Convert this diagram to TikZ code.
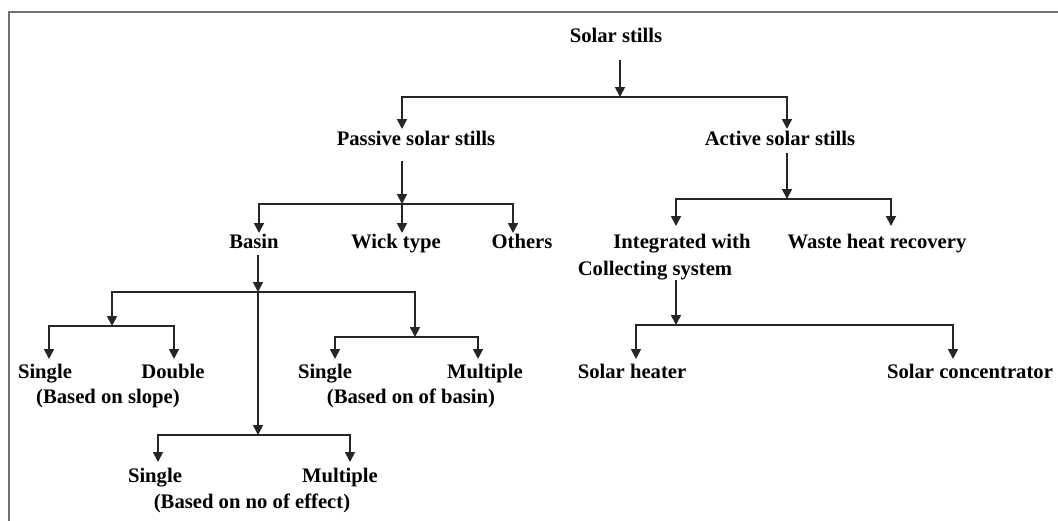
\documentclass[tikz,border=0pt]{standalone}
\usepackage{fontspec}
\setmainfont{Liberation Serif}
\usetikzlibrary{arrows.meta}
\begin{document}
\begin{tikzpicture}[x=0.75pt,y=-0.75pt,
  lbl/.style={anchor=base,inner sep=0pt,text=black,font=\fontsize{15.5}{18}\selectfont\bfseries},
  link/.style={draw=black!85,line width=1.3pt},
  arr/.style={link,-{Triangle[width=7.5pt,length=7.5pt]}},
  frame/.style={draw=black!55,line width=0.8pt}]
\useasboundingbox (0,0) rectangle (1058,521);
\draw[frame] (1058,12) -- (9,12) -- (9,521);

% nodes
\node[lbl] (ss) at (616,42) {Solar stills};
\node[lbl] (pass) at (416,145) {Passive solar stills};
\node[lbl] (act) at (780,145) {Active solar stills};
\node[lbl] (basin) at (254,248) {Basin};
\node[lbl] (wick) at (396,248) {Wick type};
\node[lbl] (oth) at (522,248) {Others};
\node[lbl] (integ) at (682,248) {Integrated with};
\node[lbl] (coll) at (655,275) {Collecting system};
\node[lbl] (waste) at (877,248) {Waste heat recovery};
\node[lbl] (sheat) at (632,378) {Solar heater};
\node[lbl] (sconc) at (970,378) {Solar concentrator};
\node[lbl] (sgA) at (45,378) {Single};
\node[lbl] (dbA) at (173,378) {Double};
\node[lbl] (bsA) at (108,403) {(Based on slope)};
\node[lbl] (sgB) at (325,378) {Single};
\node[lbl] (mlB) at (485,378) {Multiple};
\node[lbl] (bsB) at (411,403) {(Based on of basin)};
\node[lbl] (sgC) at (155,482) {Single};
\node[lbl] (mlC) at (340,482) {Multiple};
\node[lbl] (bsC) at (252,508) {(Based on no of effect)};

% coordinates
\coordinate (s0) at (620,60);
\coordinate (j0) at (620,97);
\coordinate (tP) at (402,129);
\coordinate (tA) at (787,129);
\coordinate (p0) at (402,161);
\coordinate (jP) at (402,204);
\coordinate (tBa) at (259,233);
\coordinate (tWi) at (402,233);
\coordinate (tOt) at (513,233);
\coordinate (a0) at (787,153);
\coordinate (jA) at (787,199);
\coordinate (tIn) at (676,226);
\coordinate (tWa) at (891,226);
\coordinate (c0) at (676,280);
\coordinate (jC) at (676,325);
\coordinate (tSH) at (636,359);
\coordinate (tSC) at (953,359);
\coordinate (b0) at (258,255);
\coordinate (jB) at (258,292);
\coordinate (jL) at (112,326);
\coordinate (tLs) at (49,359);
\coordinate (tLd) at (174,359);
\coordinate (jR) at (415,337);
\coordinate (tRs) at (335,359);
\coordinate (tRm) at (478,359);
\coordinate (jM) at (258,435);
\coordinate (tMs) at (158,462);
\coordinate (tMm) at (350,462);

% connectors
\draw[arr] (s0) -- (j0);
\draw[arr] (j0) -| (tP);
\draw[arr] (j0) -| (tA);
\draw[arr] (p0) -- (jP);
\draw[arr] (jP) -| (tBa);
\draw[arr] (jP) -- (tWi);
\draw[arr] (jP) -| (tOt);
\draw[arr] (a0) -- (jA);
\draw[arr] (jA) -| (tIn);
\draw[arr] (jA) -| (tWa);
\draw[arr] (c0) -- (jC);
\draw[arr] (jC) -| (tSH);
\draw[arr] (jC) -| (tSC);
\draw[arr] (b0) -- (jB);
\draw[arr] (jB) -| (jL);
\draw[arr] (jL) -| (tLs);
\draw[arr] (jL) -| (tLd);
\draw[arr] (jB) -| (jR);
\draw[arr] (jR) -| (tRs);
\draw[arr] (jR) -| (tRm);
\draw[arr] (jB) -- (jM);
\draw[arr] (jM) -| (tMs);
\draw[arr] (jM) -| (tMm);
\end{tikzpicture}
\end{document}
